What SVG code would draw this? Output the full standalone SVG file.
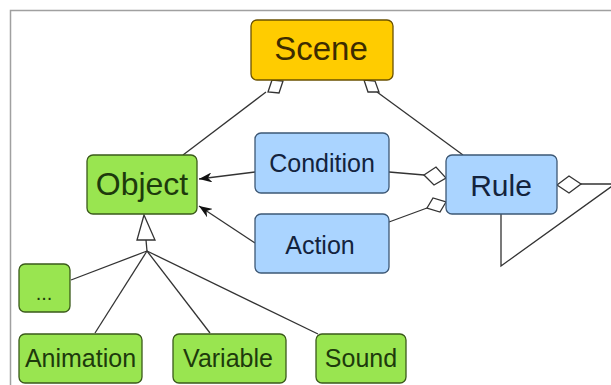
<svg xmlns="http://www.w3.org/2000/svg" width="611" height="385" viewBox="0 0 611 385">
<defs>
<style>
.n rect{stroke-width:1.3}
.g rect{fill:#99e550;stroke:#3a5a1a}
.b rect{fill:#aad4ff;stroke:#3d5875}
.y rect{fill:#ffcc00;stroke:#6b5200}
text{font-family:"Liberation Sans",Arial,sans-serif;text-anchor:middle;dominant-baseline:central}
.g text{fill:#1d3a0c}
.b text{fill:#13233d}
.y text{fill:#3d2c00}
.c{fill:none;stroke:#333;stroke-width:1.3}
.d{fill:#fff;stroke:#333;stroke-width:1.3}
</style>
<marker id="arr" viewBox="0 0 13 10" refX="13" refY="5" markerWidth="13" markerHeight="10" markerUnits="userSpaceOnUse" orient="auto">
<path d="M0,0 L13,5 L0,10 L4,5 Z" fill="#111"/>
</marker>
</defs>
<rect x="0" y="0" width="611" height="385" fill="#fff"/>
<path d="M10.5,385 V10.5 H611" fill="none" stroke="#a0a0a0" stroke-width="1.5"/>
<g id="connectors">
<line class="c" x1="266" y1="92" x2="183" y2="155"/>
<polygon class="d" points="272,80 283,81 279,93 268,92"/>
<line class="c" x1="377" y1="92" x2="463" y2="155"/>
<polygon class="d" points="364,80 375,81 379,92 368,92"/>
<line class="c" x1="255" y1="172" x2="199" y2="179" marker-end="url(#arr)"/>
<line class="c" x1="255" y1="243" x2="199" y2="206" marker-end="url(#arr)"/>
<line class="c" x1="389" y1="172" x2="424" y2="175"/>
<polygon class="d" points="424,175 436,167 446,178 434,185"/>
<line class="c" x1="389" y1="222" x2="427" y2="208"/>
<polygon class="d" points="427,208 433,198 446,202 440,212"/>
<polygon class="d" points="557,185 569,176 581,184 569,193"/>
<polyline class="c" points="581,184 615,184 501,266 501,214"/>
<polygon class="d" points="144,215 155,240 137,240"/>
<line class="c" x1="146" y1="240" x2="147" y2="251"/>
<line class="c" x1="147" y1="251" x2="71" y2="280"/>
<line class="c" x1="147" y1="251" x2="95" y2="333"/>
<line class="c" x1="147" y1="251" x2="210" y2="333"/>
<line class="c" x1="147" y1="251" x2="318" y2="334"/>
</g>
<g id="scene" class="n y"><rect x="251" y="20" width="142" height="60" rx="6"/><text x="321" y="48" font-size="33">Scene</text></g>
<g id="object" class="n g"><rect x="87" y="155" width="110" height="59" rx="6"/><text x="142" y="184" font-size="32">Object</text></g>
<g id="condition" class="n b"><rect x="255" y="133" width="134" height="60" rx="6"/><text x="322" y="163" font-size="25">Condition</text></g>
<g id="action" class="n b"><rect x="255" y="214" width="134" height="59" rx="6"/><text x="320" y="245" font-size="25">Action</text></g>
<g id="rule" class="n b"><rect x="446" y="155" width="111" height="59" rx="6"/><text x="501" y="185" font-size="30">Rule</text></g>
<g id="etc" class="n g"><rect x="19" y="264" width="51" height="48" rx="6"/><text x="44" y="293" font-size="20">...</text></g>
<g id="animation" class="n g"><rect x="19" y="334" width="123" height="49" rx="6"/><text x="80.5" y="358" font-size="25">Animation</text></g>
<g id="variable" class="n g"><rect x="173" y="334" width="113" height="49" rx="6"/><text x="228" y="358" font-size="25">Variable</text></g>
<g id="sound" class="n g"><rect x="316" y="334" width="90" height="49" rx="6"/><text x="361" y="358" font-size="25">Sound</text></g>
</svg>
